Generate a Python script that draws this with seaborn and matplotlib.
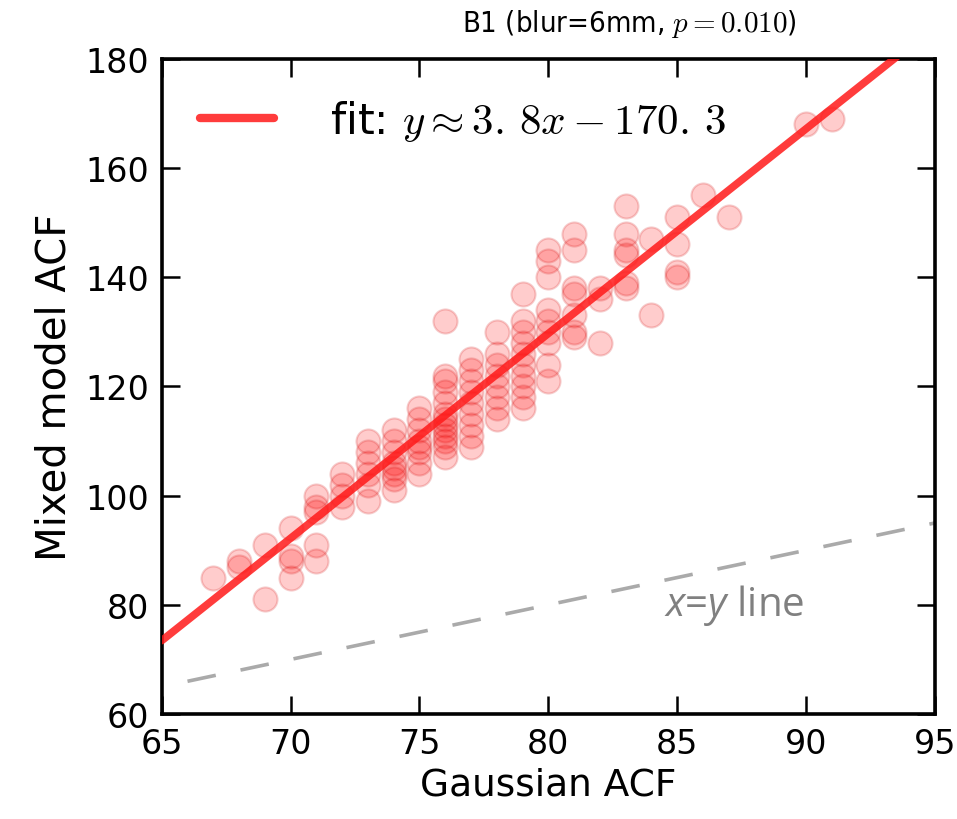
import numpy as np
import pandas as pd
import matplotlib
matplotlib.use("Agg")
import matplotlib.pyplot as plt
import seaborn as sns

# ---- data ----
gauss_cols = [67, 68, 69, 70, 71, 72, 73, 74, 75, 76, 77, 78, 79, 80, 81, 82, 83, 84, 85, 86, 87, 90, 91]
mixed_vals = [
    [85],
    [87, 88],
    [91, 81],
    [94, 89, 88, 85],
    [100, 98, 97, 91, 88],
    [104, 102, 100, 98],
    [110, 108, 106, 104, 102, 99],
    [112, 110, 108, 106, 105, 104, 103, 101],
    [116, 114, 112, 110, 109, 108, 106, 104],
    [132, 122, 121, 119, 117, 115, 114, 113, 112, 111, 110, 109, 107],
    [125, 123, 121, 119, 117, 115, 113, 111, 109],
    [130, 126, 124, 122, 120, 118, 116, 114],
    [137, 132, 130, 128, 126, 124, 122, 120, 118, 116],
    [145, 143, 140, 134, 132, 130, 128, 124, 121],
    [148, 145, 138, 137, 133, 130, 129],
    [138, 136, 128],
    [153, 148, 145, 144, 139, 138],
    [147, 133],
    [151, 146, 141, 140],
    [155],
    [151],
    [168],
    [169],
]
fit_slope = 3.75
fit_intercept = -170.3
fit_x = [65, 95]
identity_x = [66, 95]
x_ticks = [65, 70, 75, 80, 85, 90, 95]
y_ticks = [60, 80, 100, 120, 140, 160, 180]

rows = [(gx, v) for gx, vals in zip(gauss_cols, mixed_vals) for v in vals]
df = pd.DataFrame(rows, columns=["Gaussian ACF", "Mixed model ACF"])

sns.set_style("ticks")
plt.rcParams["mathtext.fontset"] = "cm"
plt.rcParams["mathtext.it"] = "Open Sans:italic"
plt.rcParams["mathtext.rm"] = "Open Sans"
plt.rcParams["font.family"] = ["DejaVu Sans"]
plt.rcParams["text.color"] = "black"
plt.rcParams["axes.labelcolor"] = "black"
plt.rcParams["xtick.color"] = "black"
plt.rcParams["ytick.color"] = "black"

fig = plt.figure(figsize=(9.57, 8.2), dpi=100)
ax = fig.add_axes([0.169, 0.128, 0.808, 0.799])

sns.scatterplot(data=df, x="Gaussian ACF", y="Mixed model ACF", ax=ax,
                s=300, color="red", alpha=0.2, edgecolor="#d01010",
                linewidth=1.5, zorder=2)

fx = np.array(fit_x, dtype=float)
ax.plot(fx, fit_slope * fx + fit_intercept, color="#ff1a1a", alpha=0.85, lw=5.5,
        zorder=3, label=r"fit: $y \approx 3.\,8x - 170.\,3$")

ix = np.array(identity_x, dtype=float)
ax.plot(ix, ix, color="#aaaaaa", lw=2.6, ls=(0, (8, 7)), zorder=1)

ax.text(84.5, 80, r"$x$=$y$ line", color="#808080", fontsize=29,
        family="Open Sans", va="center", ha="left", math_fontfamily="custom")

ax.set_xlim(65, 95)
ax.set_ylim(60, 180)
ax.set_xticks(x_ticks)
ax.set_yticks(y_ticks)
ax.tick_params(direction="in", length=13, width=1.8, labelsize=24,
               top=True, right=True, pad=9)
for sp in ax.spines.values():
    sp.set_linewidth(2.6)
    sp.set_color("black")
    sp.set_visible(True)

ax.set_xlabel("Gaussian ACF", fontsize=27, labelpad=5)
ax.set_ylabel("Mixed model ACF", fontsize=29, labelpad=8)
ax.set_title(r"B1 (blur=6mm, $p=0.010$)", fontsize=21, pad=20, x=0.605,
             fontstretch="condensed")

leg = ax.legend(loc="upper left", frameon=False, fontsize=31,
                handlelength=1.7, handletextpad=1.3,
                borderaxespad=0.5)
for h in leg.get_lines():
    h.set_linewidth(6)

fig.savefig("out.png", dpi=100)
